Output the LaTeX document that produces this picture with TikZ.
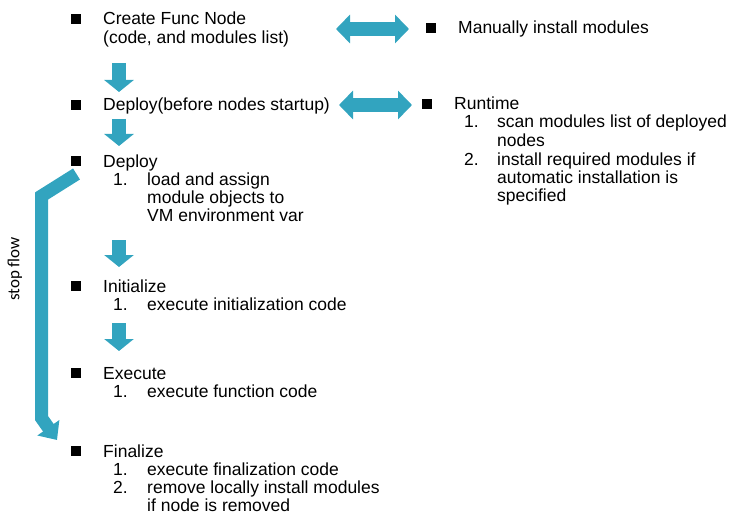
\documentclass[tikz,border=0pt]{standalone}
\usepackage{fontspec}
\setmainfont{Liberation Sans}
\newfontfamily\flowfont{Carlito}
\usetikzlibrary{arrows.meta,positioning}

\begin{document}
\begin{tikzpicture}[
    x=1pt, y=-1pt,
    steptext/.style={
        anchor=base west,
        inner sep=0pt,
        align=left,
        font=\fontsize{17.5}{18.3}\selectfont
    },
    bullet/.style={
        fill=black,
        inner sep=0pt,
        minimum size=9.5pt,
        anchor=south east
    },
    downarrow/.style={
        draw=flowteal,
        line width=14pt,
        -{Triangle[length=12pt,width=29pt]}
    },
    dblarrow/.style={
        draw=flowteal,
        line width=14pt,
        {Triangle[length=14pt,width=28pt]}-{Triangle[length=14pt,width=28pt]}
    }
]

\definecolor{flowteal}{RGB}{50,164,191}

\useasboundingbox (0,0) rectangle (744,524);

% ============ MAIN FLOW ============
% (multi-line nodes sit on the baseline of their last line)
\node[steptext] (create) at (103,43.3) {Create Func Node\\(code, and modules list)};
\node[steptext] (deployPre) at (103,111) {Deploy(before nodes startup)};
\node[steptext] (deploy) at (103,167) {Deploy};
\node[steptext] (init) at (103,292) {Initialize};
\node[steptext] (exec) at (103,379) {Execute};
\node[steptext] (final) at (103,457) {Finalize};

% numbered items
\node[steptext] (deployN) at (113,185) {1.};
\node[steptext] (deployA) at (147,221.6) {load and assign\\module objects to\\VM environment var};
\node[steptext] (initN) at (113,310) {1.};
\node[steptext] (initA) at (147,310) {execute initialization code};
\node[steptext] (execN) at (113,397) {1.};
\node[steptext] (execA) at (147,397) {execute function code};
\node[steptext] (finalN) at (113,475) {1.};
\node[steptext] (finalA) at (147,475) {execute finalization code};
\node[steptext] (finalM) at (113,493) {2.};
\node[steptext] (finalB) at (147,511.3) {remove locally install modules\\if node is removed};

% ============ RIGHT SIDE ============
\node[steptext] (manual) at (458,34) {Manually install modules};
\node[steptext] (runtime) at (454,110) {Runtime};
\node[steptext] (runtimeN) at (464,128) {1.};
\node[steptext] (runtimeA) at (497,146.3) {scan modules list of deployed\\nodes};
\node[steptext] (runtimeM) at (464,165) {2.};
\node[steptext] (runtimeB) at (497,201.6) {install required modules if\\automatic installation is\\specified};

% Bullets
\node[bullet] (createB) at ([xshift=-22pt,yshift=19.3pt]create.base west) {};
\foreach \item in {deployPre, deploy, init, exec, final, manual, runtime} {
    \node[bullet] (\item B) at ([xshift=-22pt,yshift=1pt]\item.base west) {};
}

% ============ ARROWS ============
% Down arrows between the steps
\coordinate (d1a) at (119,63);  \coordinate (d1b) at (119,92);
\coordinate (d2a) at (119,119); \coordinate (d2b) at (119,146);
\coordinate (d3a) at (119,240); \coordinate (d3b) at (119,267);
\coordinate (d4a) at (119,323); \coordinate (d4b) at (119,351);
\foreach \i in {1,...,4} {
    \draw[downarrow] (d\i a) -- (d\i b);
}

% Double arrows to the right side
\coordinate (m1) at (336,29);  \coordinate (m2) at (409,29);
\coordinate (r1) at (339,105); \coordinate (r2) at (412,105);
\draw[dblarrow] (m1) -- (m2);
\draw[dblarrow] (r1) -- (r2);

% Stop flow arrow
\coordinate (stopA) at (76.5,174);
\coordinate (stopB) at (41.5,196);
\coordinate (stopC) at (41.5,418);
\coordinate (stopD) at (57,440);
\draw[draw=flowteal, line width=13pt, line join=miter,
    -{Triangle[length=15pt,width=26pt]}]
    (stopA) -- (stopB) -- (stopC) -- (stopD);
\node[rotate=90, font=\flowfont\fontsize{17}{19}\selectfont, inner sep=0pt] (stopflow) at (15,269) {stop flow};

\end{tikzpicture}
\end{document}
